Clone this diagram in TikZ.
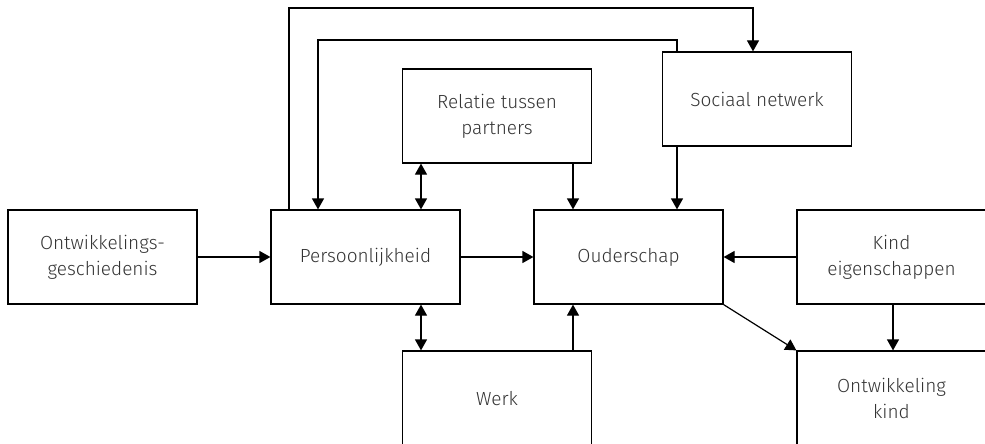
\documentclass[tikz,border=0pt]{standalone}
\usepackage{fontspec}
\setmainfont{Fira Sans}[UprightFont=* Light]
\usetikzlibrary{arrows.meta}
\begin{document}
\begin{tikzpicture}[x=1pt,y=-1pt,
  box/.style={draw=black,line width=1.2pt,minimum width=189pt,minimum height=94pt,inner sep=0pt,align=center,font=\fontsize{19}{26}\selectfont,text=black!80},
  conn/.style={line width=1.2pt,-{Triangle[length=11pt,width=12pt]}},
  dconn/.style={line width=1.2pt,{Triangle[length=11pt,width=12pt]}-{Triangle[length=11pt,width=12pt]}}]
\useasboundingbox (0,0) rectangle (985,444);
\clip (0,0) rectangle (985,444);
\node[box] (ont) at (102.5,257) {Ontwikkelings-\\geschiedenis};
\node[box] (per) at (365.5,257) {Persoonlijkheid};
\node[box] (oud) at (628.5,257) {Ouderschap};
\node[box] (kei) at (891.5,257) {Kind\\eigenschappen};
\node[box] (rel) at (497,116) {Relatie tussen\\partners};
\node[box] (soc) at (757,99) {Sociaal netwerk};
\node[box,minimum height=188pt,text depth=94pt] (wrk) at (497,445) {Werk};
\node[box,minimum height=188pt,text depth=94pt] (okd) at (891.5,445) {Ontwikkeling\\kind};
\draw[conn] (ont) -- (per);
\draw[conn] (per) -- (oud);
\draw[conn] (kei) -- (oud);
\draw[dconn] (rel.south -| 421,0) -- (per.north -| 421,0);
\draw[dconn] (wrk.north -| 421,0) -- (per.south -| 421,0);
\draw[conn] (rel.south -| 573,0) -- (oud.north -| 573,0);
\draw[conn] (wrk.north -| 573,0) -- (oud.south -| 573,0);
\draw[conn] (soc.south -| 677,0) -- (oud.north -| 677,0);
\draw[conn] (soc.north -| 677,0) -- (677,40) -- (318,40) -- (per.north -| 318,0);
\draw[conn] (per.north -| 289,0) -- (289,8) -- (753,8) -- (soc.north -| 753,0);
\draw[conn] (oud.south east) -- (okd.north west);
\draw[conn] (kei.south -| 893,0) -- (okd.north -| 893,0);
\end{tikzpicture}
\end{document}
